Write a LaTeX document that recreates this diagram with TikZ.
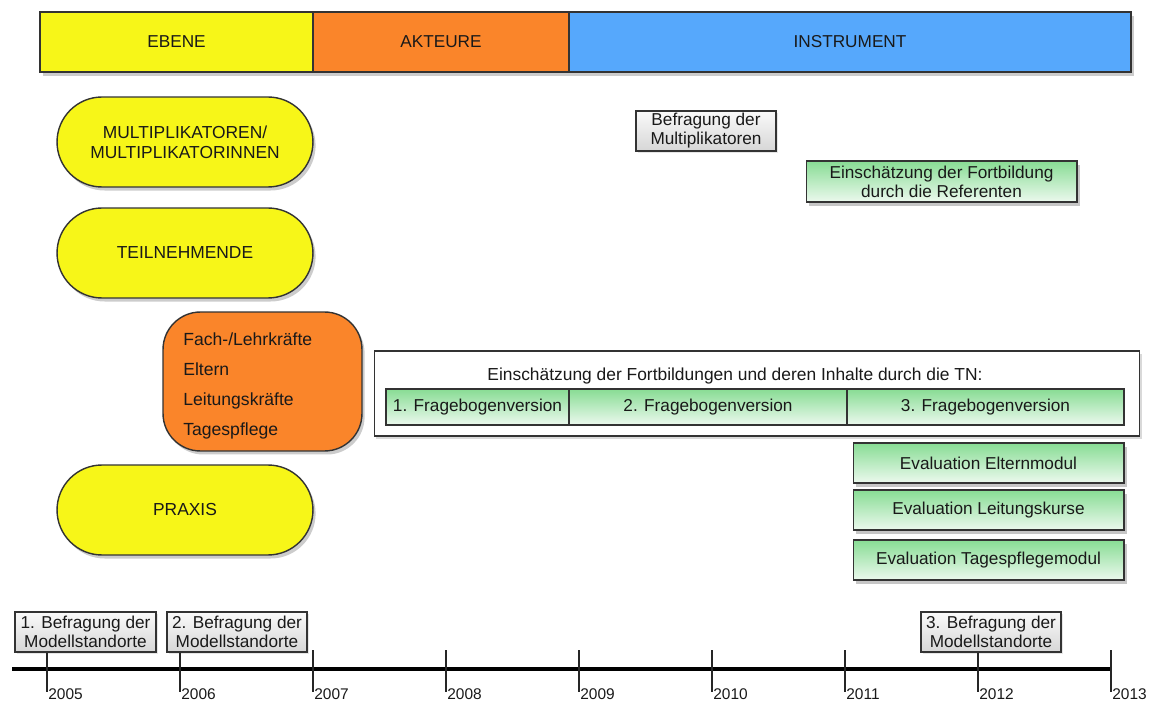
\documentclass[tikz,border=0pt]{standalone}
\usepackage{fontspec}
\setmainfont{Liberation Sans}
\usetikzlibrary{shadows}
\definecolor{ebgelb}{RGB}{247,246,24}
\definecolor{akorange}{RGB}{250,133,42}
\definecolor{inblau}{RGB}{86,168,252}
\definecolor{tngruen}{RGB}{136,220,148}
\definecolor{tnhell}{RGB}{236,249,238}
\definecolor{schrift}{RGB}{25,25,25}
\tikzset{
    kopf/.style={draw=black!80, line width=0.8pt, minimum height=1.2cm, inner sep=0pt,
        text=schrift, font=\fontsize{9.8}{11}\selectfont,
        drop shadow={opacity=0.4, shadow xshift=1.5pt, shadow yshift=-2pt}},
    pille/.style={draw=black!80, line width=0.8pt, fill=ebgelb, minimum width=5.12cm,
        minimum height=1.8cm, rounded corners=0.9cm, align=center, text=schrift,
        font=\fontsize{9.9}{11.5}\selectfont,
        drop shadow={opacity=0.4, shadow xshift=1.5pt, shadow yshift=-2pt}},
    grau/.style={draw=black!80, line width=0.6pt, top color=black!2, bottom color=black!16,
        minimum height=0.8cm, inner sep=0pt, align=center, text=schrift,
        font=\fontsize{9.8}{10.8}\selectfont,
        drop shadow={opacity=0.2, shadow xshift=1pt, shadow yshift=-1pt}},
    gruen/.style={draw=black!80, line width=0.6pt, top color=tngruen, bottom color=tnhell,
        minimum height=0.8cm, inner sep=0pt, align=center, text=schrift,
        font=\fontsize{9.8}{10.8}\selectfont,
        drop shadow={opacity=0.45, shadow xshift=1.5pt, shadow yshift=-2pt}},
    zelle/.style={draw=black!80, line width=0.6pt, top color=tngruen, bottom color=tnhell,
        minimum height=0.72cm, inner sep=0pt, text=schrift, font=\fontsize{9.8}{10.8}\selectfont},
    strich/.style={line width=0.6pt, black!85},
}
\newcommand{\drawyear}[2]{
    \coordinate (j#2o) at (#1,650);
    \coordinate (j#2u) at (#1,692);
    \node[anchor=north west, inner sep=0pt, text=schrift, font=\fontsize{8.8}{10}\selectfont]
        (l#2) at (#1+1,688) {#2};
}

\begin{document}
\begin{tikzpicture}[x=0.02cm, y=-0.02cm]
    \useasboundingbox (0,0) rectangle (1153,702);

    % Kopfzeile
    \node[kopf, fill=ebgelb, minimum width=5.46cm] (ebene) at (176.5,42) {EBENE};
    \node[kopf, fill=akorange, minimum width=5.12cm] (akteure) at (441,42) {AKTEURE};
    \node[kopf, fill=inblau, minimum width=11.24cm] (instrument) at (850,42) {INSTRUMENT};

    % Ebenen
    \node[pille] (multi) at (185,142) {MULTIPLIKATOREN/\\MULTIPLIKATORINNEN};
    \node[pille] (teiln) at (185,253) {TEILNEHMENDE};
    \node[pille] (praxis) at (185,510) {PRAXIS};

    \node[draw=black!80, line width=0.8pt, fill=akorange, rounded corners=0.75cm,
        minimum width=3.98cm, minimum height=2.78cm,
        drop shadow={opacity=0.4, shadow xshift=1.5pt, shadow yshift=-2pt}]
        (akt) at (262.5,381.5) {};
    \node[anchor=west, inner sep=0pt, align=left, text=schrift,
        font=\fontsize{10}{17}\selectfont]
        (aktliste) at (183,386) {Fach-/Lehrkräfte\\Eltern\\Leitungskräfte\\Tagespflege};

    % Instrumente
    \node[grau, minimum width=2.8cm] (befmulti) at (706,131) {Befragung der\\Multiplikatoren};
    \node[gruen, minimum width=5.42cm, minimum height=0.82cm] (referenten) at (941.5,181.5)
        {Einschätzung der Fortbildung\\durch die Referenten};

    \node[draw=black!80, line width=0.6pt, fill=white, minimum width=15.32cm,
        minimum height=1.7cm, inner sep=0pt,
        drop shadow={opacity=0.3, shadow xshift=1pt, shadow yshift=-1.5pt}]
        (tnrahmen) at (757,393.5) {};
    \node[text=schrift, font=\fontsize{9.9}{10.8}\selectfont] (tntitel) at (735,376)
        {Einschätzung der Fortbildungen und deren Inhalte durch die TN:};
    \node[zelle, minimum width=3.66cm] (frage1) at (477.5,407) {1. Fragebogenversion};
    \node[zelle, minimum width=5.56cm] (frage2) at (708,407) {2. Fragebogenversion};
    \node[zelle, minimum width=5.54cm] (frage3) at (985.5,407) {3. Fragebogenversion};

    \node[gruen, minimum width=5.42cm] (eltern) at (988.5,463) {Evaluation Elternmodul};
    \node[gruen, minimum width=5.42cm] (leitung) at (988.5,510) {Evaluation Leitungskurse};
    \node[gruen, minimum width=5.42cm] (tagespflege) at (988.5,560) {Evaluation Tagespflegemodul};

    % Zeitachse
    \drawyear{47}{2005}
    \drawyear{180}{2006}
    \drawyear{313}{2007}
    \drawyear{446}{2008}
    \drawyear{579}{2009}
    \drawyear{712}{2010}
    \drawyear{845}{2011}
    \drawyear{978}{2012}
    \drawyear{1111}{2013}

    \coordinate (achsel) at (12,669);
    \draw[line width=2.4pt, black] (achsel) -- (j2013u |- achsel);

    \node[grau, minimum width=2.82cm] (bef1) at (85.5,632) {1. Befragung der\\Modellstandorte};
    \node[grau, minimum width=2.8cm] (bef2) at (237,632) {2. Befragung der\\Modellstandorte};
    \node[grau, minimum width=2.8cm] (bef3) at (991,632) {3. Befragung der\\Modellstandorte};

    \draw[strich] (bef1.south -| j2005o) -- (j2005u);
    \draw[strich] (bef2.south -| j2006o) -- (j2006u);
    \draw[strich] (j2007o) -- (j2007u);
    \draw[strich] (j2008o) -- (j2008u);
    \draw[strich] (j2009o) -- (j2009u);
    \draw[strich] (j2010o) -- (j2010u);
    \draw[strich] (j2011o) -- (j2011u);
    \draw[strich] (bef3.south -| j2012o) -- (j2012u);
    \draw[strich] (j2013o) -- (j2013u);
\end{tikzpicture}
\end{document}
